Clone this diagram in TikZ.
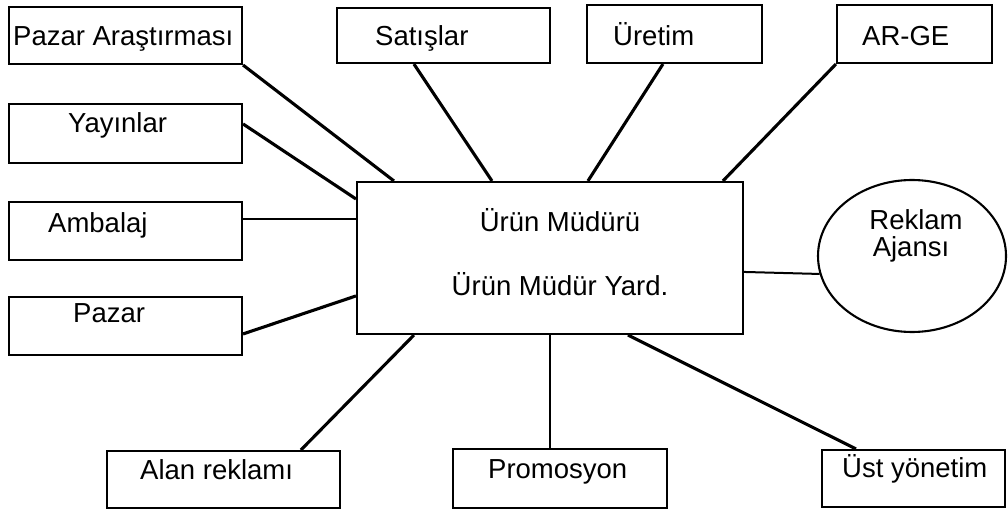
\documentclass[tikz,border=0pt]{standalone}
\usepackage{fontspec}
\setmainfont{Liberation Sans}
\usetikzlibrary{shapes.geometric,calc}
\begin{document}
\begin{tikzpicture}[x=1pt,y=-1pt,
  box/.style={draw, line width=2.1pt, rectangle, inner sep=0pt},
  oval/.style={draw, line width=2.1pt, ellipse, inner sep=0pt},
  lbl/.style={inner sep=0pt, font=\fontsize{27.5}{32}\selectfont},
  heavy/.style={line width=3.1pt},
  light/.style={line width=2pt}]
\useasboundingbox (0,0) rectangle (1008,510);

% outer boxes
\node[box, minimum width=233pt, minimum height=57pt] (pa)   at (125.5,35.5) {};
\node[box, minimum width=213pt, minimum height=55pt] (sat)  at (443.5,35.5) {};
\node[box, minimum width=175pt, minimum height=58pt] (ure)  at (674.5,34) {};
\node[box, minimum width=155pt, minimum height=58pt] (arge) at (914.5,34) {};
\node[box, minimum width=233pt, minimum height=59pt] (yay)  at (125.5,133.5) {};
\node[box, minimum width=233pt, minimum height=58pt] (amb)  at (125.5,231) {};
\node[box, minimum width=233pt, minimum height=58pt] (paz)  at (125.5,326) {};
\node[box, minimum width=233pt, minimum height=57pt] (alan) at (223.5,479.5) {};
\node[box, minimum width=214pt, minimum height=59pt] (pro)  at (560,478.5) {};
\node[box, minimum width=183pt, minimum height=57pt] (ust)  at (913.5,478.5) {};

% central box and agency
\node[box, minimum width=386pt, minimum height=152pt] (mgr) at (550,258) {};
\node[oval, minimum width=188pt, minimum height=152pt] (ajans) at (912,256) {};

% labels
\node[lbl, anchor=base west] (t-pa)   at (13,46)  {Pazar Araştırması};
\node[lbl, anchor=base west] (t-sat)  at (375,46) {Satışlar};
\node[lbl, anchor=base west] (t-ure)  at (613,46) {Üretim};
\node[lbl, anchor=base west] (t-arge) at (862,46) {AR-GE};
\node[lbl, anchor=base west] (t-yay)  at (68,133) {Yayınlar};
\node[lbl, anchor=base west] (t-amb)  at (48,233) {Ambalaj};
\node[lbl, anchor=base west] (t-paz)  at (73,322) {Pazar};
\node[lbl, anchor=base west] (t-alan) at (140,479) {Alan reklamı};
\node[lbl, anchor=base west] (t-pro)  at (488,478) {Promosyon};
\node[lbl, anchor=base west] (t-ust)  at (842,477) {Üst yönetim};
\node[lbl, anchor=base] (t-mgr1) at (560,232) {Ürün Müdürü};
\node[lbl, anchor=base] (t-mgr2) at (560,295) {Ürün Müdür Yard.};
\node[lbl, anchor=base] (t-aj1) at (916,230) {Reklam};
\node[lbl, anchor=base] (t-aj2) at (911,257) {Ajansı};

% connectors to the central box
\draw[heavy] (pa.south east) -- ($(mgr.north west)+(38,0)$);
\draw[heavy] ($(sat.south west)+(78,0)$) -- ($(mgr.north west)+(136,0)$);
\draw[heavy] ($(ure.south west)+(77,0)$) -- ($(mgr.north west)+(232,0)$);
\draw[heavy] (arge.south west) -- ($(mgr.north west)+(367,0)$);
\draw[heavy] ($(yay.north east)+(0,21)$) -- ($(mgr.north west)+(0,18)$);
\draw[light] ($(amb.north east)+(0,18)$) -- ($(mgr.north west)+(0,38)$);
\draw[heavy] ($(paz.north east)+(0,38)$) -- ($(mgr.north west)+(0,115)$);
\draw[light] ($(mgr.north east)+(0,91)$) -- (ajans.191);
\draw[heavy] ($(alan.north west)+(195,0)$) -- ($(mgr.south west)+(58,0)$);
\draw[light] (mgr.south) -- (mgr.south |- pro.north);
\draw[heavy] ($(ust.north west)+(35,0)$) -- ($(mgr.south west)+(272,0)$);
\end{tikzpicture}
\end{document}
